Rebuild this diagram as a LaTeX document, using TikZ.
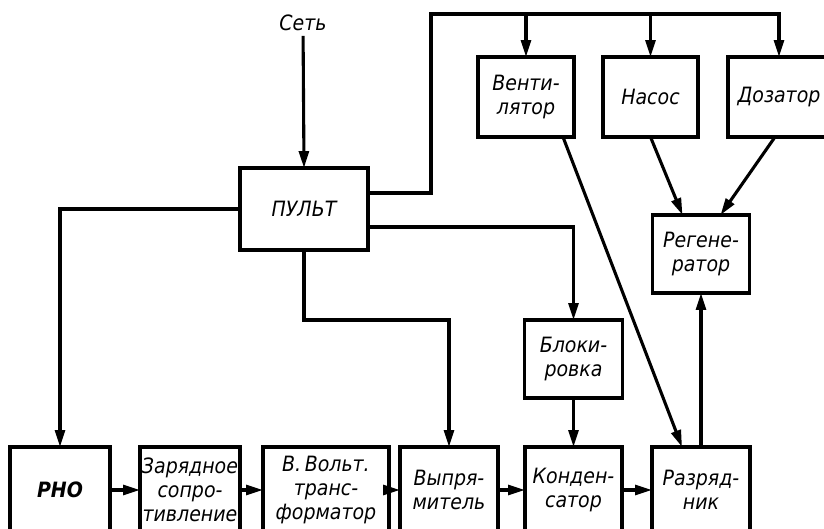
\documentclass[tikz,border=0pt]{standalone}
\usepackage{fontspec}
\setmainfont{DejaVu Sans Condensed}
\usetikzlibrary{arrows.meta}
\usetikzlibrary{positioning}
\tikzset{
  blok/.style={draw, line width=2.4pt, outer sep=0pt, inner sep=1pt, align=center, minimum width=#1, minimum height=2cm, font=\itshape\fontsize{15}{17}\selectfont},
  blok/.default=2.45cm,
  strela/.style={-{Triangle[length=12pt,width=7pt]}, line width=2.2pt},
}

\begin{document}
\begin{tikzpicture}
  \useasboundingbox (0,0) rectangle (20.6,13.225);
  \clip (0,0) rectangle (20.6,13.225);
  \node[blok=2.5cm, minimum height=2.15cm, font=\bfseries\itshape\fontsize{15}{17}\selectfont] (rno) at (1.5,0.975) {РНО};
  \node[blok=2.5cm, minimum height=2.15cm, right=0.75cm of rno] (zar) {Зарядное\\сопро-\\тивление};
  \node[blok=3.15cm, minimum height=2.15cm, right=0.575cm of zar] (volt) {В.\,Вольт.\\транс-\\форматор};
  \node[blok, minimum height=2.15cm, right=0.275cm of volt] (vypr) {Выпря-\\митель};
  \node[blok=2.425cm, minimum height=2.15cm, right=0.675cm of vypr] (kond) {Конден-\\сатор};
  \node[blok, minimum height=2.15cm, right=0.75cm of kond] (razr) {Разряд-\\ник};
  \node[blok, minimum height=1.95cm, above=1.225cm of kond] (blokir) {Блоки-\\ровка};
  \node[blok=2.425cm, minimum height=1.95cm, above=3.85cm of razr] (regen) {Регене-\\ратор};
  \node[blok=3.2cm, minimum height=2.05cm] (pult) at (7.6,8.0) {ПУЛЬТ};
  \node[font=\itshape\fontsize{15}{17}\selectfont] (set) at (7.575,12.65) {Сеть};
  \node[blok=2.4cm] (vent) at (13.15,10.8) {Венти-\\лятор};
  \node[blok=2.375cm, right=0.725cm of vent] (nasos) {Насос};
  \node[blok=2.55cm, right=0.75cm of nasos] (dozator) {Дозатор};
  \coordinate (shina) at (10.775,12.875);
  \draw[strela] (set) -- (pult.north);
  \draw[strela] (pult.west) -| (rno.north);
  \draw[strela] ([yshift=0.4cm]pult.east) -| (shina) -| (dozator.north);
  \draw[strela] (vent.north |- shina) -- (vent.north);
  \draw[strela] (nasos.north |- shina) -- (nasos.north);
  \draw[strela] ([yshift=-0.45cm]pult.east) -| (blokir.north);
  \draw[strela] (pult.south) -- ++(0,-1.75) -| (vypr.north);
  \draw[strela] (blokir.south) -- (kond.north |- blokir.south) -- (kond.north);
  \foreach \a/\b in {rno/zar, zar/volt, volt/vypr, vypr/kond, kond/razr}
    \draw[strela] (\a.east) -- (\b.west);
  \draw[strela] ([xshift=-0.275cm]vent.south east) -- ([xshift=-0.475cm]razr.north);
  \draw[strela] (nasos.south) -- ([xshift=-0.4625cm]regen.north);
  \draw[strela] ([xshift=-0.1cm]dozator.south) -- ([xshift=0.4875cm]regen.north);
  \draw[strela] (razr.north) -- (razr.north |- regen.south);
\end{tikzpicture}
\end{document}
